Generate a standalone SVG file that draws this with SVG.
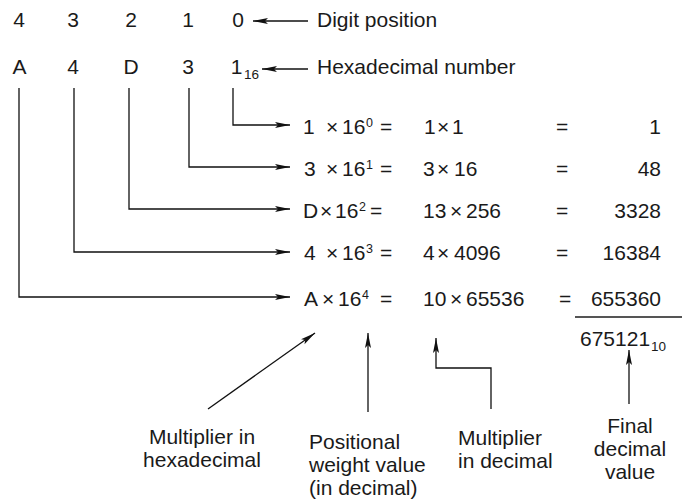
<svg xmlns="http://www.w3.org/2000/svg" width="690" height="501" viewBox="0 0 690 501">
  <defs>
    <marker id="arrow" viewBox="-16 -4 17 8" refX="0" refY="0" markerWidth="17" markerHeight="8" markerUnits="userSpaceOnUse" orient="auto">
      <path d="M0,0 L-15,-3 L-12,0 L-15,3 Z" fill="#111"/>
    </marker>
    <style>
      text { font-family: "Liberation Sans", Arial, Helvetica, sans-serif; font-size: 21px; fill: #1a1a1a; }
      .mid { text-anchor: middle; }
      .end { text-anchor: end; }
      .sup { font-size: 12.5px; }
      .sub { font-size: 13.5px; }
      .wire { fill: none; stroke: #222; stroke-width: 1.4; }
      .arr { fill: none; stroke: #111; stroke-width: 1.3; marker-end: url(#arrow); }
      .rule { stroke: #555; stroke-width: 1.8; }
    </style>
  </defs>

  <rect width="690" height="501" fill="#fff"/>

  <!-- digit positions -->
  <g id="positions">
    <text class="mid" x="19" y="27">4</text>
    <text class="mid" x="73" y="27">3</text>
    <text class="mid" x="131" y="27">2</text>
    <text class="mid" x="188" y="27">1</text>
    <text class="mid" x="238" y="27">0</text>
    <text x="317" y="27">Digit position</text>
  </g>

  <!-- hexadecimal number -->
  <g id="hexnumber">
    <text class="mid" x="19.5" y="74">A</text>
    <text class="mid" x="73" y="74">4</text>
    <text class="mid" x="131" y="74">D</text>
    <text class="mid" x="188" y="74">3</text>
    <text class="mid" x="236.5" y="74">1</text>
    <text class="sub" x="244" y="79">16</text>
    <text x="317" y="74">Hexadecimal number</text>
  </g>

  <!-- term rows -->
  <g id="row0">
    <text x="303" y="134">1</text>
    <text x="326" y="134">×</text>
    <text x="342" y="134">16</text>
    <text class="sup" x="366" y="127">0</text>
    <text x="380" y="134">=</text>
    <text x="424" y="134">1</text>
    <text x="437" y="134">×</text>
    <text x="452" y="134">1</text>
    <text x="556" y="134">=</text>
    <text class="end" x="661" y="134">1</text>
  </g>
  <g id="row1">
    <text x="304" y="176">3</text>
    <text x="326" y="176">×</text>
    <text x="342" y="176">16</text>
    <text class="sup" x="366" y="169">1</text>
    <text x="380" y="176">=</text>
    <text x="423" y="176">3</text>
    <text x="437" y="176">×</text>
    <text x="454" y="176">16</text>
    <text x="556" y="176">=</text>
    <text class="end" x="661" y="176">48</text>
  </g>
  <g id="row2">
    <text x="303" y="218">D</text>
    <text x="320" y="218">×</text>
    <text x="335" y="218">16</text>
    <text class="sup" x="359" y="211">2</text>
    <text x="370" y="218">=</text>
    <text x="423" y="218">13</text>
    <text x="450" y="218">×</text>
    <text x="466" y="218">256</text>
    <text x="556" y="218">=</text>
    <text class="end" x="661" y="218">3328</text>
  </g>
  <g id="row3">
    <text x="304" y="260">4</text>
    <text x="326" y="260">×</text>
    <text x="342" y="260">16</text>
    <text class="sup" x="366" y="253">3</text>
    <text x="380" y="260">=</text>
    <text x="423" y="260">4</text>
    <text x="437" y="260">×</text>
    <text x="454" y="260">4096</text>
    <text x="556" y="260">=</text>
    <text class="end" x="661" y="260">16384</text>
  </g>
  <g id="row4">
    <text x="304" y="306">A</text>
    <text x="322" y="306">×</text>
    <text x="338" y="306">16</text>
    <text class="sup" x="362" y="299">4</text>
    <text x="380" y="306">=</text>
    <text x="423" y="306">10</text>
    <text x="450" y="306">×</text>
    <text x="466" y="306">65536</text>
    <text x="559" y="306">=</text>
    <text class="end" x="661" y="306">655360</text>
  </g>

  <!-- sum -->
  <g id="total">
    <line class="rule" x1="575" y1="317" x2="682" y2="317"/>
    <text x="580" y="346">675121</text>
    <text class="sub" x="651" y="351">10</text>
  </g>

  <!-- annotations -->
  <g id="label-hex-multiplier">
    <text class="mid" x="202" y="444">Multiplier in</text>
    <text class="mid" x="202" y="467">hexadecimal</text>
  </g>
  <g id="label-weight">
    <text x="309" y="449">Positional</text>
    <text x="309" y="472">weight value</text>
    <text x="309" y="495">(in decimal)</text>
  </g>
  <g id="label-dec-multiplier">
    <text x="458" y="445">Multiplier</text>
    <text x="458" y="468">in decimal</text>
  </g>
  <g id="label-final">
    <text class="mid" x="630" y="433">Final</text>
    <text class="mid" x="630" y="456">decimal</text>
    <text class="mid" x="630" y="479">value</text>
  </g>

  <!-- connectors -->
  <g id="connectors">
    <line class="arr" x1="308" y1="21" x2="253" y2="21"/>
    <line class="arr" x1="308" y1="69" x2="262" y2="69"/>

    <path class="wire arr" d="M233,88 V125 H290"/>
    <path class="wire arr" d="M189,88 V167 H290"/>
    <path class="wire arr" d="M129,88 V209 H290"/>
    <path class="wire arr" d="M74,88 V252 H290"/>
    <path class="wire arr" d="M19,88 V297 H290"/>

    <line class="arr" x1="208" y1="409" x2="315" y2="333"/>
    <line class="arr" x1="368" y1="412" x2="368" y2="333"/>
    <path class="arr" d="M491,409 V368 H436 V338"/>
    <line class="arr" x1="629" y1="404" x2="629" y2="350"/>
  </g>
</svg>
